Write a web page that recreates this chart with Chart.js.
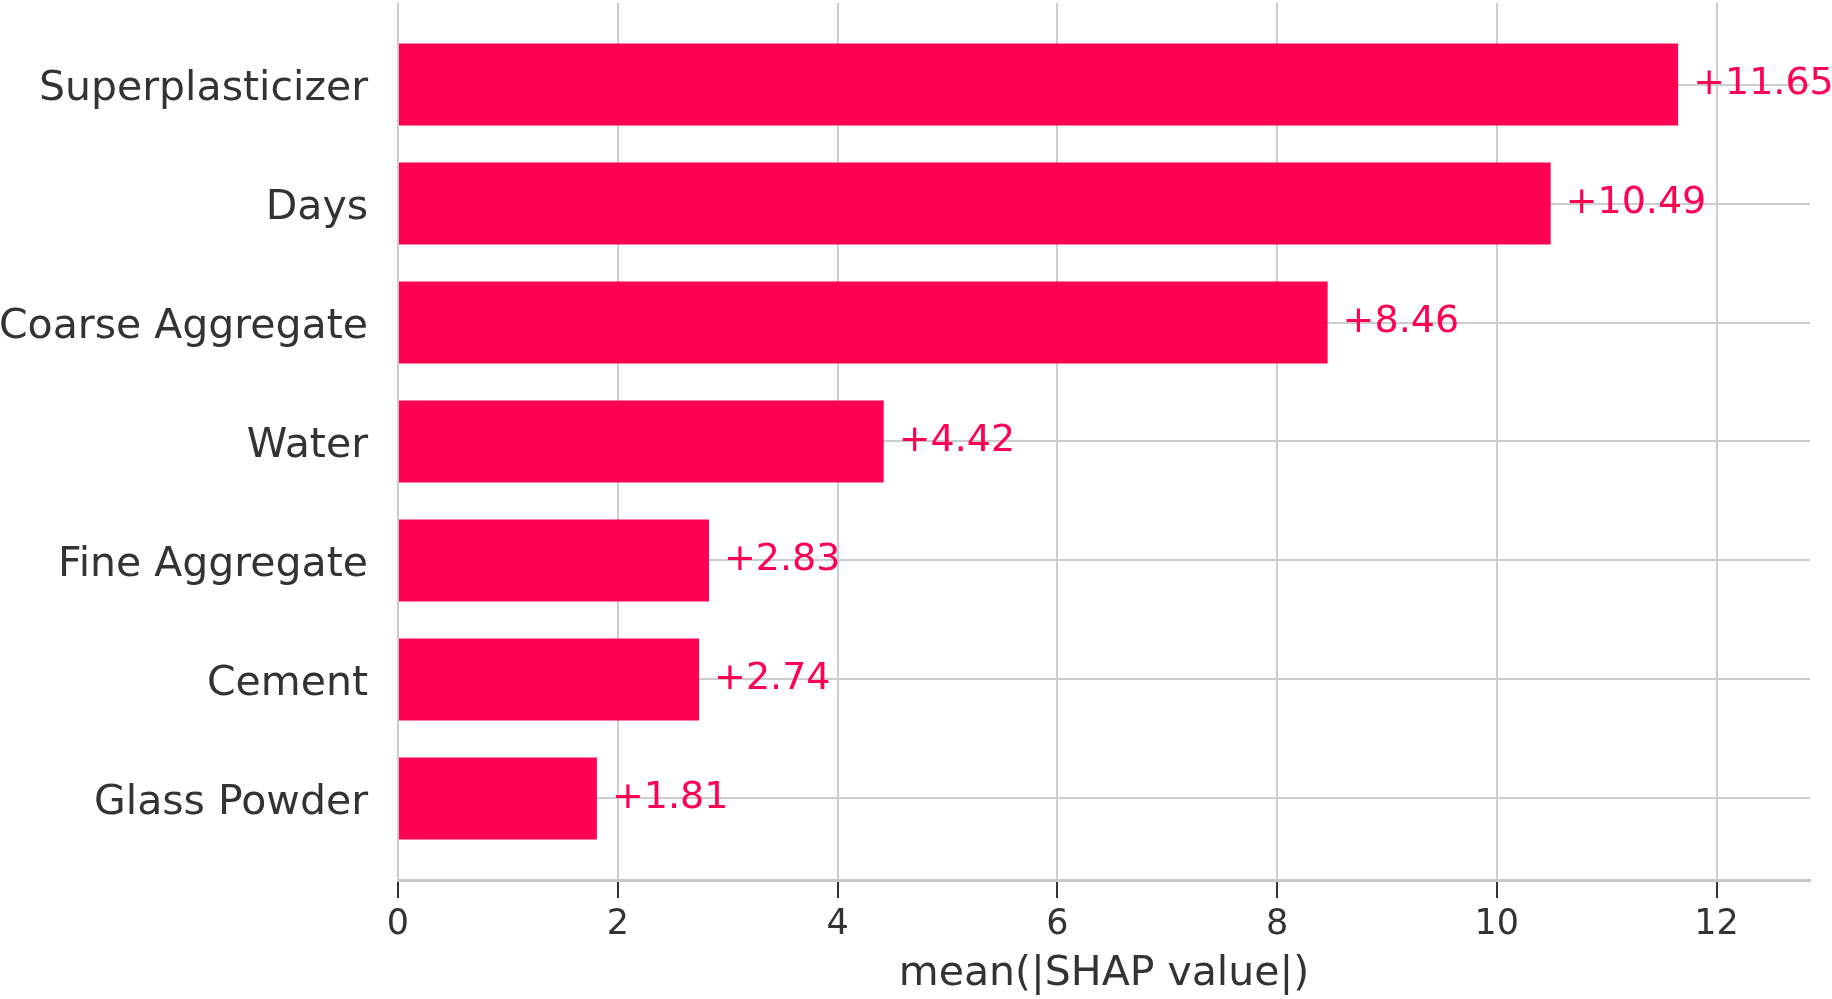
<!DOCTYPE html>
<html>
<head>
<meta charset="utf-8">
<script src="https://cdn.jsdelivr.net/npm/chart.js@4"></script>
<style>
  body { margin: 0; background: #fff; }
</style>
</head>
<body>
<canvas id="chart" width="1832" height="999"></canvas>
<script>
const features = [
  "Superplasticizer",
  "Days",
  "Coarse Aggregate",
  "Water",
  "Fine Aggregate",
  "Cement",
  "Glass Powder",
];
const shapValues = [11.65, 10.49, 8.46, 4.42, 2.83, 2.74, 1.81];
const xTicks = [0, 2, 4, 6, 8, 10, 12];
const xMax = 12.85;

const barColor = "#ff0052";
const textColor = "#333333";
const gridColor = "#cccccc";
const fontFamily = "'DejaVu Sans', sans-serif";

const valueLabels = {
  id: "valueLabels",
  afterDatasetsDraw(chart) {
    const ctx = chart.ctx;
    const meta = chart.getDatasetMeta(0);
    ctx.save();
    ctx.font = "38px " + fontFamily;
    ctx.fillStyle = barColor;
    ctx.textAlign = "left";
    ctx.textBaseline = "middle";
    meta.data.forEach((bar, i) => {
      ctx.fillText("+" + shapValues[i].toFixed(2), bar.x + 15, bar.y);
    });
    ctx.restore();
  },
};

const ctx = document.getElementById("chart").getContext("2d");

new Chart(ctx, {
  type: "bar",
  data: {
    datasets: [
      {
        data: shapValues.map((v, i) => ({ x: v, y: i })),
        backgroundColor: barColor,
        borderWidth: 0,
        categoryPercentage: 1,
        barPercentage: 0.69,
      },
    ],
  },
  options: {
    indexAxis: "y",
    responsive: false,
    animation: false,
    layout: { padding: { top: 3, right: 22, left: 0, bottom: 0 } },
    plugins: {
      legend: { display: false },
      tooltip: { enabled: false },
    },
    scales: {
      x: {
        type: "linear",
        min: 0,
        max: xMax,
        afterFit: (scale) => {
          scale.height = 119;
        },
        afterBuildTicks: (scale) => {
          scale.ticks = xTicks.map((v) => ({ value: v }));
        },
        grid: {
          color: gridColor,
          lineWidth: 2,
          tickColor: textColor,
          tickLength: 18,
          tickWidth: 2,
        },
        border: { color: "#c8c8c8", width: 3 },
        ticks: {
          color: textColor,
          padding: 6,
          font: { family: fontFamily, size: 35 },
        },
        title: {
          display: true,
          text: "mean(|SHAP value|)",
          color: textColor,
          padding: { top: 0, bottom: 0 },
          font: { family: fontFamily, size: 41 },
        },
      },
      y: {
        type: "linear",
        reverse: true,
        offset: false,
        min: -0.685,
        max: features.length - 1 + 0.685,
        afterFit: (scale) => {
          scale.width = 398;
          scale.paddingTop = 0;
          scale.paddingBottom = 0;
        },
        afterBuildTicks: (scale) => {
          scale.ticks = features.map((f, i) => ({ value: i }));
        },
        grid: {
          color: gridColor,
          lineWidth: 2,
          drawTicks: false,
          offset: false,
        },
        border: { color: gridColor, width: 2 },
        ticks: {
          color: textColor,
          padding: 30,
          labelOffset: 5,
          font: { family: fontFamily, size: 41 },
          callback: (value) => features[value],
        },
      },
    },
  },
  plugins: [valueLabels],
});
</script>
</body>
</html>
